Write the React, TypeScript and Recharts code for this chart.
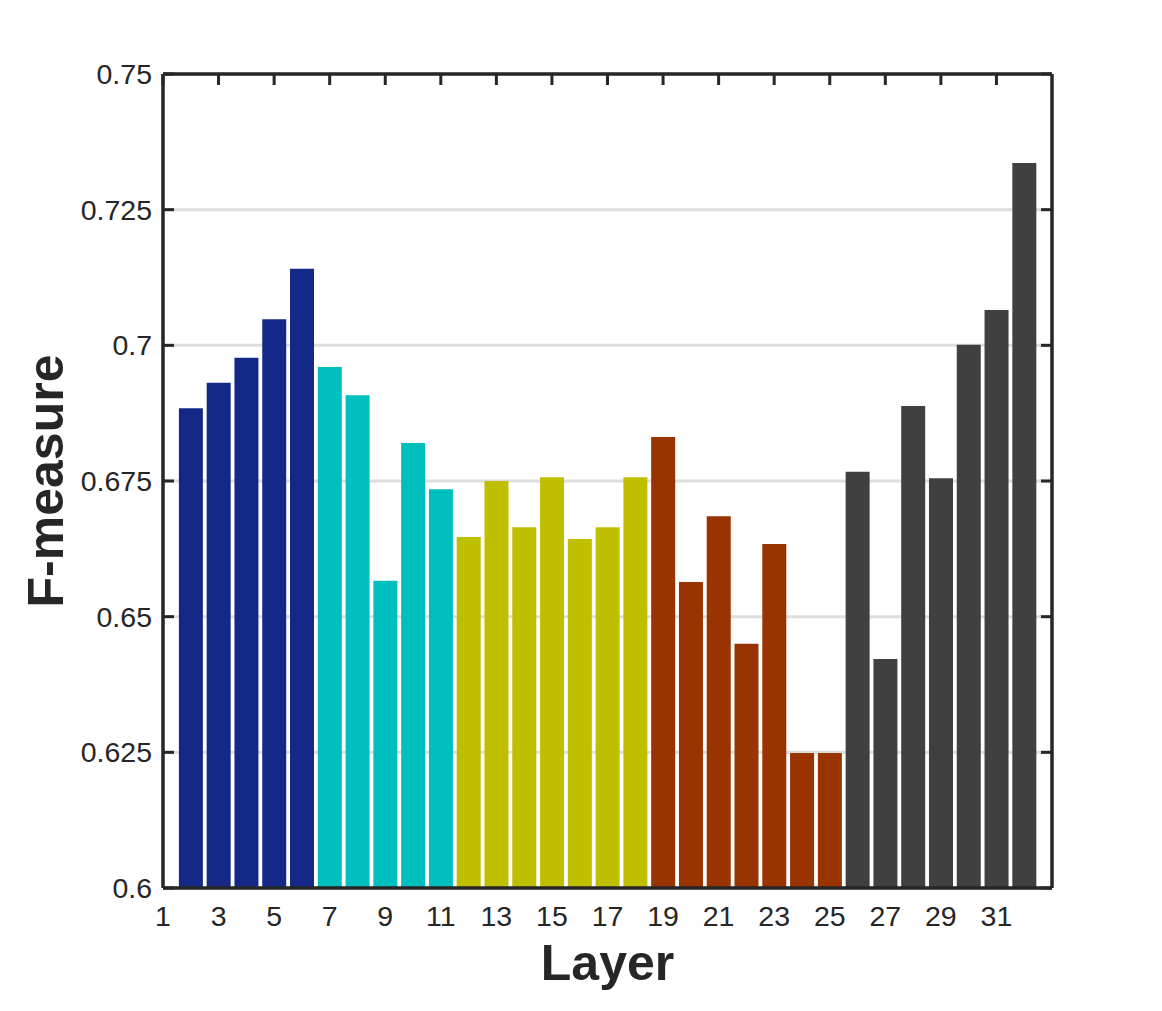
import { Bar, BarChart, CartesianGrid, Cell, Label, XAxis, YAxis } from 'recharts'

const layers = [2, 3, 4, 5, 6, 7, 8, 9, 10, 11, 12, 13, 14, 15, 16, 17, 18, 19, 20, 21, 22, 23, 24, 25, 26, 27, 28, 29, 30, 31, 32]
const fMeasure = [
  0.6884, 0.6931, 0.6977, 0.7048, 0.7141,
  0.696, 0.6908, 0.6566, 0.682, 0.6735,
  0.6647, 0.675, 0.6665, 0.6757, 0.6643, 0.6665, 0.6757,
  0.6831, 0.6564, 0.6685, 0.645, 0.6634, 0.6249, 0.6249,
  0.6767, 0.6422, 0.6888, 0.6755, 0.7001, 0.7065, 0.7336,
]
// which colour block each layer belongs to
const groupIndex = [0, 0, 0, 0, 0, 1, 1, 1, 1, 1, 2, 2, 2, 2, 2, 2, 2, 3, 3, 3, 3, 3, 3, 3, 4, 4, 4, 4, 4, 4, 4]
const groupColors = ['#142888', '#00bfbf', '#bfbf00', '#993300', '#404040']

const xTicks = [1, 3, 5, 7, 9, 11, 13, 15, 17, 19, 21, 23, 25, 27, 29, 31]
const yTicks = [0.6, 0.625, 0.65, 0.675, 0.7, 0.725, 0.75]

const data = layers.map((layer, i) => ({ layer, value: fMeasure[i], group: groupIndex[i] }))

const INK = '#262626'
const FONT = '"Liberation Sans", Arial, Helvetica, sans-serif'
const TICK_LEN = 11

function LeftTick({ x, y, payload }: any) {
  return (
    <g>
      <line x1={x} x2={x + TICK_LEN} y1={y} y2={y} stroke={INK} strokeWidth={3} />
      <text x={x - 11} y={y} dy={10} textAnchor="end" fontSize={28.5} fill={INK} fontFamily={FONT}>
        {payload.value}
      </text>
    </g>
  )
}

function RightTick({ x, y }: any) {
  return <line x1={x} x2={x - TICK_LEN} y1={y} y2={y} stroke={INK} strokeWidth={3} />
}

function BottomTick({ x, y, payload }: any) {
  return (
    <text x={x} y={y + 38} textAnchor="middle" fontSize={28.5} fill={INK} fontFamily={FONT}>
      {payload.value}
    </text>
  )
}

function TopTick({ x, y }: any) {
  return <line x1={x} x2={x} y1={y} y2={y + TICK_LEN} stroke={INK} strokeWidth={3} />
}

function YTitle({ viewBox }: any) {
  const cx = viewBox.x - 99
  const cy = viewBox.y + viewBox.height / 2
  return (
    <text x={cx} y={cy} transform={`rotate(-90 ${cx} ${cy})`} textAnchor="middle" fontSize={50} fontWeight="bold" fill={INK} fontFamily={FONT}>
      F-measure
    </text>
  )
}

function XTitle({ viewBox }: any) {
  return (
    <text x={viewBox.x + viewBox.width / 2} y={viewBox.y + 92} textAnchor="middle" fontSize={50} fontWeight="bold" fill={INK} fontFamily={FONT}>
      Layer
    </text>
  )
}

export default function App() {
  return (
    <div style={{ position: 'absolute', left: 0, top: 0, background: '#fff' }}>
      <BarChart width={1162} height={1011} data={data} margin={{ top: 73, right: 109, bottom: 122, left: 162 }}>
        <CartesianGrid yAxisId="l" xAxisId="b" vertical={false} stroke="#dedede" strokeWidth={3} />
        <Bar xAxisId="b" yAxisId="l" dataKey="value" barSize={24} isAnimationActive={false}>
          {data.map((d) => (
            <Cell key={d.layer} fill={groupColors[d.group]} />
          ))}
        </Bar>
        <XAxis
          xAxisId="b"
          dataKey="layer"
          type="number"
          domain={[1, 33]}
          ticks={xTicks}
          height={1}
          tickSize={0}
          tickMargin={0}
          tickLine={false}
          axisLine={{ stroke: INK, strokeWidth: 3.5 }}
          tick={<BottomTick />}
          interval={0}
        >
          <Label content={<XTitle />} />
        </XAxis>
        <XAxis
          xAxisId="t"
          orientation="top"
          dataKey="layer"
          type="number"
          domain={[1, 33]}
          ticks={xTicks}
          height={1}
          tickSize={0}
          tickMargin={0}
          tickLine={false}
          axisLine={{ stroke: INK, strokeWidth: 3.5 }}
          tick={<TopTick />}
          interval={0}
        />
        <YAxis
          yAxisId="l"
          type="number"
          domain={[0.6, 0.75]}
          ticks={yTicks}
          width={1}
          tickSize={0}
          tickMargin={0}
          tickLine={false}
          allowDataOverflow
          axisLine={{ stroke: INK, strokeWidth: 3.5 }}
          tick={<LeftTick />}
          interval={0}
        >
          <Label content={<YTitle />} />
        </YAxis>
        <YAxis
          yAxisId="r"
          orientation="right"
          type="number"
          domain={[0.6, 0.75]}
          ticks={yTicks}
          width={1}
          tickSize={0}
          tickMargin={0}
          tickLine={false}
          allowDataOverflow
          axisLine={{ stroke: INK, strokeWidth: 3.5 }}
          tick={<RightTick />}
          interval={0}
        />
      </BarChart>
    </div>
  )
}
